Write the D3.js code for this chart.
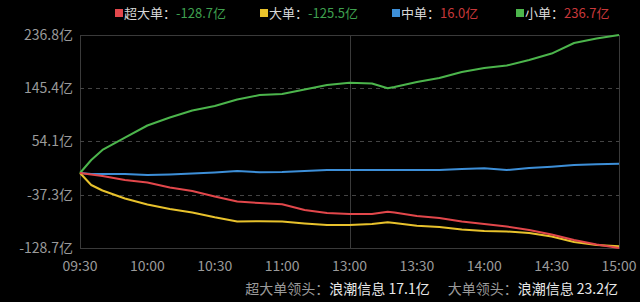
<!DOCTYPE html>
<html>
<head>
<meta charset="utf-8">
<script src="https://cdn.jsdelivr.net/npm/d3@7"></script>
<style>
  html, body { margin: 0; padding: 0; background: #000; }
  svg { display: block; font-family: "Noto Sans CJK SC", "Noto Sans", sans-serif; }
</style>
</head>
<body>
<script>
// minutes since 09:30 (lunch break removed, 240 trading minutes)
const minutes = [0, 5, 10, 20, 30, 40, 50, 60, 70, 80, 90, 100, 110, 120, 130, 137, 140, 150, 160, 170, 180, 190, 200, 210, 220, 230, 240];
const superLarge = [0, -2.6, -5.1, -12, -16.3, -24.9, -30.9, -40.3, -48.9, -51.5, -53.7, -63.5, -68.6, -70.4, -70.4, -66.4, -67.8, -73.8, -77.2, -83.2, -87.5, -91.8, -97.8, -105.5, -115, -122.7, -128.7];
const large = [0, -20.6, -30, -43.8, -54.1, -61.8, -67.8, -76, -83.2, -82.9, -83.2, -86.6, -89.2, -89.2, -87.5, -84.6, -85.8, -90.4, -92.7, -97, -99.5, -100.4, -103, -109, -118.4, -123.6, -125.5];
const medium = [0, -1.7, -1.7, -1.7, -3.4, -2.5, -0.9, 0.9, 3.4, 1.2, 1.7, 3.4, 5.1, 5.1, 5.1, 5.1, 5.1, 5.1, 5.1, 6.9, 8.1, 5.1, 8.6, 10.8, 13.7, 14.9, 16.0];
const small = [0, 22.3, 39.5, 60.9, 81.5, 95.2, 107.3, 115, 126.1, 133.8, 135.6, 143.3, 151, 155, 153.6, 145.3, 147.6, 156.2, 163, 173.3, 180.2, 184.5, 193.9, 205, 223.1, 230.8, 236.7];

const seriesNames = ["超大单", "大单", "中单", "小单"];
const seriesTotals = [-128.7, -125.5, 16.0, 236.7];
const seriesColors = ["#e2474b", "#e8c22c", "#3d8fd8", "#4cb54c"];

const yTicks = [236.8, 145.4, 54.1, -37.3, -128.7];
const xTickMinutes = [0, 30, 60, 90, 120, 150, 180, 210, 240];
const xTickLabels = ["09:30", "10:00", "10:30", "11:00", "13:00", "13:30", "14:00", "14:30", "15:00"];

const leaders = [
  { label: "超大单领头：", value: "浪潮信息 17.1亿" },
  { label: "大单领头：", value: "浪潮信息 23.2亿" }
];

const width = 640, height = 302;
const margin = { top: 35, right: 21, bottom: 54, left: 80 };

const svg = d3.select("body").append("svg")
  .attr("width", width)
  .attr("height", height);

svg.append("rect").attr("width", width).attr("height", height).attr("fill", "#000");

const x = d3.scaleLinear()
  .domain([0, 240])
  .range([margin.left, width - margin.right]);

const y = d3.scaleLinear()
  .domain([-128.7, 236.8])
  .range([height - margin.bottom, margin.top]);

// frame
svg.append("rect")
  .attr("x", x(0) + 0.5)
  .attr("y", y(236.8) + 0.5)
  .attr("width", x(240) - x(0))
  .attr("height", y(-128.7) - y(236.8))
  .attr("fill", "none")
  .attr("stroke", "#3a3a3a");

// dashed gridlines
svg.append("g")
  .selectAll("line")
  .data(yTicks.slice(1, -1))
  .enter()
  .append("line")
  .attr("x1", x(0))
  .attr("x2", x(240))
  .attr("y1", d => Math.round(y(d)) + 0.5)
  .attr("y2", d => Math.round(y(d)) + 0.5)
  .attr("stroke", "#444")
  .attr("stroke-dasharray", "4,4");

// midday separator
svg.append("line")
  .attr("x1", Math.round(x(120)) + 0.5)
  .attr("x2", Math.round(x(120)) + 0.5)
  .attr("y1", y(236.8))
  .attr("y2", y(-128.7))
  .attr("stroke", "#3a3a3a");

// y labels
svg.append("g")
  .selectAll("text")
  .data(yTicks)
  .enter()
  .append("text")
  .attr("x", 73)
  .attr("y", d => y(d))
  .attr("dy", "0.35em")
  .attr("text-anchor", "end")
  .attr("font-size", 14)
  .attr("fill", "#9a9a9a")
  .text(d => d.toFixed(1) + "亿");

// x labels
svg.append("g")
  .selectAll("text")
  .data(xTickMinutes)
  .enter()
  .append("text")
  .attr("x", d => x(d))
  .attr("y", 271)
  .attr("text-anchor", "middle")
  .attr("font-size", 14)
  .attr("fill", "#9a9a9a")
  .text((d, i) => xTickLabels[i]);

// lines
const allSeries = [superLarge, large, medium, small];
const line = d3.line()
  .x((d, i) => x(minutes[i]))
  .y(d => y(d));

// draw in order so red sits on top near the end like the reference
[2, 3, 1, 0].forEach(k => {
  svg.append("path")
    .datum(allSeries[k])
    .attr("d", line)
    .attr("fill", "none")
    .attr("stroke", seriesColors[k])
    .attr("stroke-width", 2)
    .attr("stroke-linejoin", "round");
});

// legend
const legendX = [115, 260, 392, 516];
const legend = svg.append("g")
  .selectAll("g")
  .data(seriesNames)
  .enter()
  .append("g")
  .attr("transform", (d, i) => `translate(${legendX[i]}, 0)`);

legend.append("rect")
  .attr("x", 0)
  .attr("y", 9)
  .attr("width", 8)
  .attr("height", 8)
  .attr("fill", (d, i) => seriesColors[i]);

const legendText = legend.append("text")
  .attr("x", 9)
  .attr("y", 18)
  .attr("font-size", 13);

legendText.append("tspan")
  .attr("fill", "#d8d8d8")
  .text(d => d + "：");

legendText.append("tspan")
  .attr("fill", (d, i) => seriesTotals[i] < 0 ? "#3fa04f" : "#c8383a")
  .text((d, i) => seriesTotals[i].toFixed(1) + "亿");

// leaders line at bottom
const foot = svg.append("text")
  .attr("x", 618)
  .attr("y", 294)
  .attr("text-anchor", "end")
  .attr("font-size", 14);

leaders.forEach((d, i) => {
  foot.append("tspan")
    .attr("fill", "#9a9a9a")
    .attr("dx", i > 0 ? 18 : 0)
    .text(d.label);
  foot.append("tspan")
    .attr("fill", "#e8e8e8")
    .text(d.value);
});
</script>
</body>
</html>
